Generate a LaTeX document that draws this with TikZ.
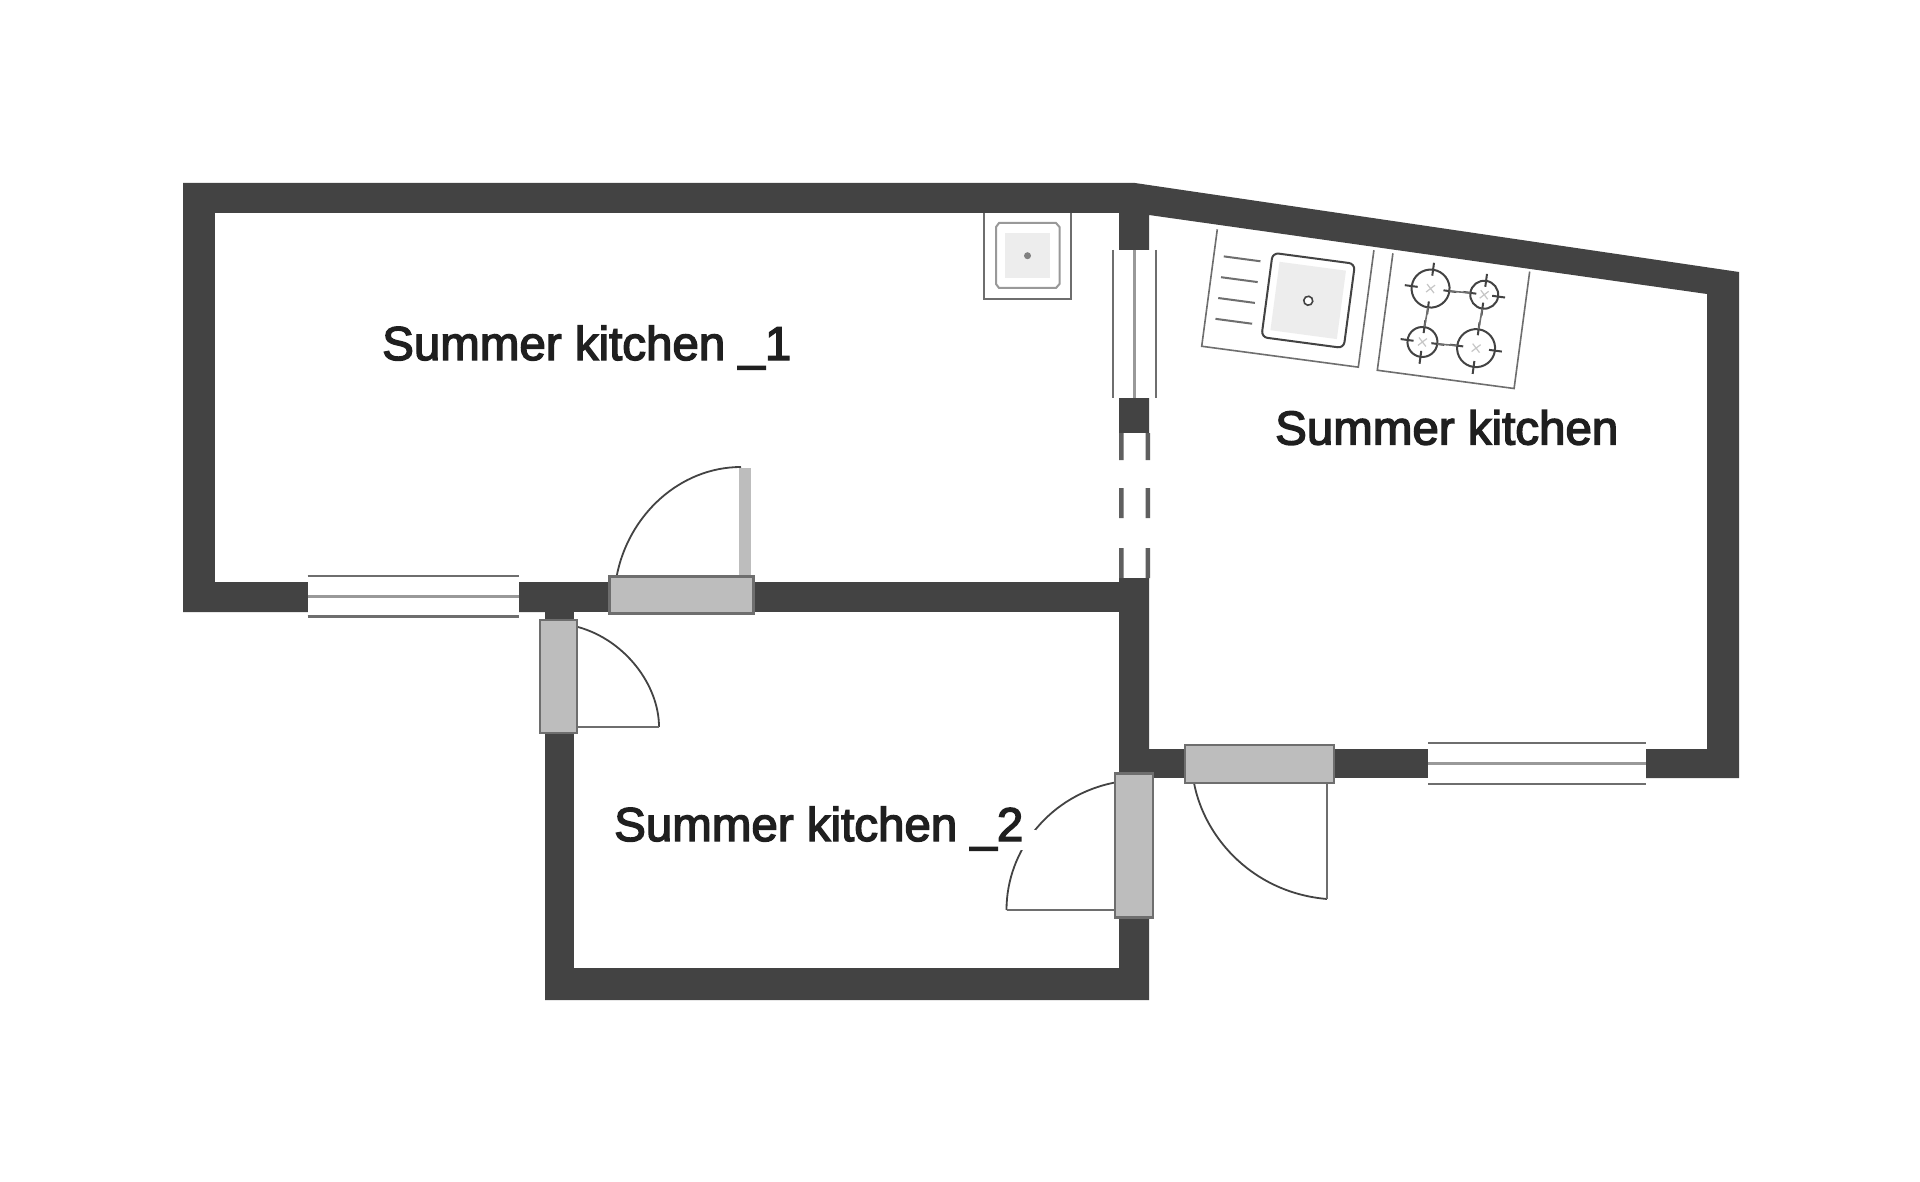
\documentclass[tikz,border=0pt]{standalone}
\usepackage{fontspec}
\setmainfont[BoldFont={Liberation Sans},FakeBold=3]{Liberation Sans}
\definecolor{wallc}{HTML}{434343}
\definecolor{doorc}{HTML}{BDBDBD}
\definecolor{edgec}{HTML}{6E6E6E}
\tikzset{
  wall/.style={fill=wallc,draw=none},
  glass/.style={draw=none,fill=white},
  pane/.style={draw=edgec,line width=2.4pt},
  midpane/.style={draw=gray!80,line width=3pt},
  doorbox/.style={fill=doorc,draw=edgec,line width=2.2pt},
  swing/.style={draw=wallc,line width=1.8pt},
  leaf/.style={draw=edgec,line width=2pt},
  fix/.style={draw=edgec,line width=1.6pt},
  roomlabel/.style={text=black!88,font=\fontsize{47.5}{48}\selectfont,inner sep=0pt,anchor=base west},
  burner/.style={draw=wallc,line width=2pt}
}
\newcommand{\burn}[3]{%
  \draw[burner] (#1,#2) circle (#3);
  \draw[burner] (#1-#3-7,#2) -- (#1-#3+6,#2) (#1+#3-6,#2) -- (#1+#3+7,#2)
                (#1,#2-#3-7) -- (#1,#2-#3+6) (#1,#2+#3-6) -- (#1,#2+#3+7);
  \draw[draw=gray!45,line width=1.2pt] (#1-4,#2-4) -- (#1+4,#2+4) (#1-4,#2+4) -- (#1+4,#2-4);
}
\begin{document}
\begin{tikzpicture}[x=1pt,y=-1pt]
\useasboundingbox (0,0) rectangle (1920,1182);
\fill[white] (0,0) rectangle (1920,1182);
% walls
\fill[wall] (183,183) -- (1135,183) -- (1739,272) -- (1739,778) -- (1428,778) -- (1428,749)
  -- (1707,749) -- (1707,294) -- (1149,215) -- (1149,1000) -- (545,1000) -- (545,612)
  -- (183,612) -- cycle;
% room interiors
\fill[white] (214.5,213) rectangle (1119,582);
\fill[white] (574,612) rectangle (1119,968);
% bottom wall of right room
\fill[wall] (1149,749) rectangle (1184,778);
\fill[wall] (1334,749) rectangle (1428,778);
% window W1
\fill[glass] (307.5,576) rectangle (518.5,617);
\draw[pane] (307.5,576) -- (518.5,576) (307.5,616.5) -- (518.5,616.5);
\draw[midpane] (307.5,596) -- (518.5,596);
% window W3
\fill[glass] (1428,743) rectangle (1646,784);
\draw[pane] (1428,743) -- (1646,743) (1428,784) -- (1646,784);
\draw[midpane] (1428,763.5) -- (1646,763.5);
% window W2
\fill[glass] (1113,250) rectangle (1156,398);
\draw[pane] (1113,250) -- (1113,398) (1156,250) -- (1156,398);
\draw[midpane] (1134.5,250) -- (1134.5,398);
% dashed opening
\fill[white] (1118,433) rectangle (1150,578);
\fill[wallc!85] (1119,433) rectangle (1123.5,460) (1145.5,433) rectangle (1150,460)
  (1119,488) rectangle (1123.5,518) (1145.5,488) rectangle (1150,518)
  (1119,548) rectangle (1123.5,578) (1145.5,548) rectangle (1150,578);
% door D1 top
\fill[doorc] (738.5,468) rectangle (751,576);
\draw[swing] (616.5,577) .. controls (628,515) and (680,467) .. (741,467);
\node[doorbox,minimum width=144pt,minimum height=37pt,inner sep=0pt] (d1) at (681.5,595) {};
% door D2
\draw[swing] (578,627) .. controls (625,640) and (659,685) .. (659,727);
\draw[leaf] (578,727) -- (659,727);
\node[doorbox,minimum width=37pt,minimum height=113pt,inner sep=0pt] (d2) at (558.5,676.5) {};
% door D3
\draw[swing] (1006.5,910) .. controls (1006.5,850) and (1050,795) .. (1115,782.5);
\fill[white] (1018,830) rectangle (1036,850);
\draw[leaf] (1006.5,910) -- (1115,910);
\node[doorbox,minimum width=38pt,minimum height=144pt,inner sep=0pt] (d3) at (1134,845.5) {};
% door D4
\draw[swing] (1194,783) .. controls (1205,840) and (1255,893) .. (1327,899);
\draw[leaf] (1327,783) -- (1327,899);
\node[doorbox,minimum width=149pt,minimum height=38pt,inner sep=0pt] (d4) at (1259.5,764) {};
% small sink
\draw[fix] (984,213) -- (984,299) -- (1071,299) -- (1071,213);
\fill[black!7] (1005,233) rectangle (1050,278);
\draw[draw=gray!80,line width=2pt] (999,223) -- (1056,223) -- (1059.5,227) -- (1059.5,284) -- (1056,288) -- (999,288) -- (996,284) -- (996,227) -- cycle;
\fill[gray] (1027.5,255.7) circle (3.5);
% kitchen sink counter
\begin{scope}[shift={(1217.3,229.3)},rotate=-7.6]
  \draw[fix] (0,0) -- (0,118) -- (158,118) -- (158,0);
  \draw[fix,line width=2pt] (10,26) -- (47,26) (10,47) -- (47,47) (10,68) -- (47,68) (10,89) -- (47,89);
  \fill[black!7] (66,24) rectangle (133,93);
  \draw[draw=wallc,line width=2pt,rounded corners=6pt] (58,16) rectangle (141,101);
  \draw[draw=wallc,line width=1.6pt,fill=white] (99.6,58.8) circle (4.5);
\end{scope}
% stove counter
\begin{scope}[shift={(1392.9,253.3)},rotate=-7.6]
  \draw[fix] (0,0) -- (0,118) -- (138,118) -- (138,0);
  \burn{42}{30}{19}
  \burn{96}{29}{14}
  \burn{41}{84}{15}
  \burn{95}{83}{19}
  \draw[fix] (61,30) -- (82,29) (42,49) -- (41,69) (96,43) -- (95,64) (56,84) -- (76,83);
\end{scope}
% labels
\node[roomlabel] (r1) at (382,360) {\bfseries Summer kitchen \_1};
\node[roomlabel] (r2) at (1275,444.5) {\bfseries Summer kitchen};
\node[roomlabel] (r3) at (614,841) {\bfseries Summer kitchen \_2};
\end{tikzpicture}
\end{document}
